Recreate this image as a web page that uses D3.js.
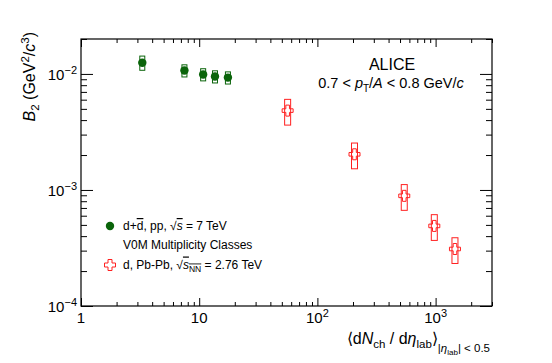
<!DOCTYPE html>
<html><head><meta charset="utf-8">
<script src="https://cdn.jsdelivr.net/npm/d3@7"></script>
<style>body{margin:0;background:#fff;}</style>
</head><body>
<script>
// pp 7 TeV, V0M multiplicity classes
var ppMult = [3.3, 7.5, 10.8, 13.6, 17.5];
var ppB2 = [0.0125, 0.0107, 0.0099, 0.0095, 0.0093];
var ppSys = [0.14, 0.12, 0.12, 0.12, 0.12];
// Pb-Pb 2.76 TeV
var pbMult = [56, 206, 543, 975, 1458];
var pbB2 = [0.00483, 0.00203, 0.00089, 0.00049, 0.00031];
var pbSys = [0.25, 0.25, 0.25, 0.25, 0.25];

var xMajor = [1, 10, 100, 1000];
var xLabelBase = ['1', '10', '10', '10'];
var xLabelExp = ['', '', '2', '3'];
var yMajor = [1e-4, 1e-3, 1e-2];
var yLabelExp = ['\u22124', '\u22123', '\u22122'];

var W = 552, H = 363;
var mL = 81, mR = 492, mT = 39, mB = 306;
var font = "'Liberation Sans', Arial, Helvetica, sans-serif";
var green = '#0a640a', red = '#ff2020';

var x = d3.scaleLog().domain([1, 3000]).range([mL, mR]);
var y = d3.scaleLog().domain([1e-4, 2e-2]).range([mB, mT]);

var xMinor = [];
[1, 10, 100, 1000].forEach(function (d) {
  for (var k = 2; k <= 9; k++) { if (d * k <= 3000) xMinor.push(d * k); }
});
var yMinor = [];
[1e-4, 1e-3, 1e-2].forEach(function (d) {
  for (var k = 2; k <= 9; k++) { if (d * k <= 2e-2 + 1e-9) yMinor.push(d * k); }
});

var svg = d3.select('body').append('svg').attr('width', W).attr('height', H)
  .style('font-family', font);

function inner(g) {
  g.select('.domain').remove();
  g.selectAll('line').attr('stroke', '#000').attr('stroke-width', 1);
  g.selectAll('text').remove();
}
// ticks inside the frame on all four sides
svg.append('g').attr('transform', 'translate(0,' + mB + ')')
  .call(d3.axisBottom(x).tickValues(xMajor).tickSize(-8)).call(inner);
svg.append('g').attr('transform', 'translate(0,' + mB + ')')
  .call(d3.axisBottom(x).tickValues(xMinor).tickSize(-4)).call(inner);
svg.append('g').attr('transform', 'translate(0,' + mT + ')')
  .call(d3.axisTop(x).tickValues(xMajor).tickSize(-8)).call(inner);
svg.append('g').attr('transform', 'translate(0,' + mT + ')')
  .call(d3.axisTop(x).tickValues(xMinor).tickSize(-4)).call(inner);
svg.append('g').attr('transform', 'translate(' + mL + ',0)')
  .call(d3.axisLeft(y).tickValues(yMajor).tickSize(-12)).call(inner);
svg.append('g').attr('transform', 'translate(' + mL + ',0)')
  .call(d3.axisLeft(y).tickValues(yMinor).tickSize(-6)).call(inner);
svg.append('g').attr('transform', 'translate(' + mR + ',0)')
  .call(d3.axisRight(y).tickValues(yMajor).tickSize(-12)).call(inner);
svg.append('g').attr('transform', 'translate(' + mR + ',0)')
  .call(d3.axisRight(y).tickValues(yMinor).tickSize(-6)).call(inner);

svg.append('rect').attr('x', mL).attr('y', mT)
  .attr('width', mR - mL).attr('height', mB - mT)
  .attr('fill', 'none').attr('stroke', '#000').attr('stroke-width', 1.2);

// tick labels
xMajor.forEach(function (v, i) {
  var t = svg.append('text').attr('x', x(v)).attr('y', 323)
    .attr('text-anchor', 'middle').attr('font-size', 15).text(xLabelBase[i]);
  if (xLabelExp[i]) {
    t.append('tspan').attr('font-size', 11).attr('dy', -6).text(xLabelExp[i]);
  }
});
yMajor.forEach(function (v, i) {
  var t = svg.append('text').attr('x', 77).attr('y', y(v) + 6)
    .attr('text-anchor', 'end').attr('font-size', 15).text('10');
  t.append('tspan').attr('font-size', 11).attr('dy', -6).text(yLabelExp[i]);
});

// axis titles
var xt = svg.append('text').attr('x', 490).attr('y', 344)
  .attr('text-anchor', 'end').attr('font-size', 16);
xt.append('tspan').text('\u27E8d');
xt.append('tspan').attr('font-style', 'italic').text('N');
xt.append('tspan').attr('font-size', 11.5).attr('dy', 4).text('ch');
xt.append('tspan').attr('dy', -4).text(' / d');
xt.append('tspan').attr('font-style', 'italic').text('\u03B7');
xt.append('tspan').attr('font-size', 11.5).attr('dy', 4).text('lab');
xt.append('tspan').attr('dy', -4).text('\u27E9');
xt.append('tspan').attr('font-size', 11.5).attr('dy', 8).text('|');
xt.append('tspan').attr('font-size', 11.5).attr('font-style', 'italic').text('\u03B7');
xt.append('tspan').attr('font-size', 8).attr('dy', 3).text('lab');
xt.append('tspan').attr('font-size', 11.5).attr('dy', -3).text('| < 0.5');

var yt = svg.append('text').attr('transform', 'translate(35,32) rotate(-90)')
  .attr('text-anchor', 'end').attr('font-size', 16);
yt.append('tspan').attr('font-style', 'italic').text('B');
yt.append('tspan').attr('font-size', 11.5).attr('dy', 4).text('2');
yt.append('tspan').attr('dy', -4).text(' (GeV');
yt.append('tspan').attr('font-size', 11.5).attr('dy', -6).text('2');
yt.append('tspan').attr('dy', 6).text('/');
yt.append('tspan').attr('font-style', 'italic').text('c');
yt.append('tspan').attr('font-size', 11.5).attr('dy', -6).text('3');
yt.append('tspan').attr('dy', 6).text(')');

// labels
svg.append('text').attr('x', 392).attr('y', 70).attr('text-anchor', 'middle')
  .attr('font-size', 16).text('ALICE');
var sub = svg.append('text').attr('x', 391).attr('y', 88).attr('text-anchor', 'middle')
  .attr('font-size', 14.5);
sub.append('tspan').text('0.7 < ');
sub.append('tspan').attr('font-style', 'italic').text('p');
sub.append('tspan').attr('font-size', 10).attr('dy', 4).text('T');
sub.append('tspan').attr('dy', -4).text('/');
sub.append('tspan').attr('font-style', 'italic').text('A');
sub.append('tspan').text(' < 0.8 GeV/');
sub.append('tspan').attr('font-style', 'italic').text('c');

// systematic boxes
function boxes(xs, ys, sys, col, hw) {
  svg.append('g').selectAll('rect').data(ys).enter().append('rect')
    .attr('x', function (d, i) { return x(xs[i]) - hw; })
    .attr('y', function (d, i) { return y(d * (1 + sys[i])); })
    .attr('width', 2 * hw)
    .attr('height', function (d, i) { return y(d * (1 - sys[i])) - y(d * (1 + sys[i])); })
    .attr('fill', 'none').attr('stroke', col).attr('stroke-width', 1);
}
boxes(ppMult, ppB2, ppSys, green, 2.5);
boxes(pbMult, pbB2, pbSys, red, 3);

svg.append('g').selectAll('circle').data(ppB2).enter().append('circle')
  .attr('cx', function (d, i) { return x(ppMult[i]); })
  .attr('cy', function (d) { return y(d); })
  .attr('r', 4.2).attr('fill', green);

function crossPath(s, a) {
  return 'M' + (-a) + ',' + (-s) + 'H' + a + 'V' + (-a) + 'H' + s + 'V' + a + 'H' + a +
    'V' + s + 'H' + (-a) + 'V' + a + 'H' + (-s) + 'V' + (-a) + 'H' + (-a) + 'Z';
}
svg.append('g').selectAll('path').data(pbB2).enter().append('path')
  .attr('transform', function (d, i) { return 'translate(' + x(pbMult[i]) + ',' + y(d) + ')'; })
  .attr('d', crossPath(5.5, 1.8)).attr('fill', 'none').attr('stroke', red).attr('stroke-width', 1);

// legend
var lg = svg.append('g').attr('font-size', 12);
lg.append('circle').attr('cx', 110).attr('cy', 226).attr('r', 4.2).attr('fill', green);
var l1 = lg.append('text').attr('x', 123).attr('y', 230);
l1.append('tspan').text('d+');
l1.append('tspan').attr('text-decoration', 'overline').text('d');
l1.append('tspan').text(', pp, \u221A');
l1.append('tspan').attr('font-style', 'italic').attr('text-decoration', 'overline').text('s');
l1.append('tspan').text(' = 7 TeV');
lg.append('text').attr('x', 123).attr('y', 249).text('V0M Multiplicity Classes');
lg.append('path').attr('transform', 'translate(110,265)').attr('d', crossPath(5.5, 2))
  .attr('fill', 'none').attr('stroke', red).attr('stroke-width', 1);
var l3 = lg.append('text').attr('x', 123).attr('y', 268.5);
l3.append('tspan').text('d, Pb-Pb, \u221A');
l3.append('tspan').attr('font-style', 'italic').attr('text-decoration', 'overline').text('s');
l3.append('tspan').attr('font-size', 8.5).attr('dy', 3).attr('text-decoration', 'overline').text('NN');
l3.append('tspan').attr('dy', -3).text(' = 2.76 TeV');
</script>
</body></html>
